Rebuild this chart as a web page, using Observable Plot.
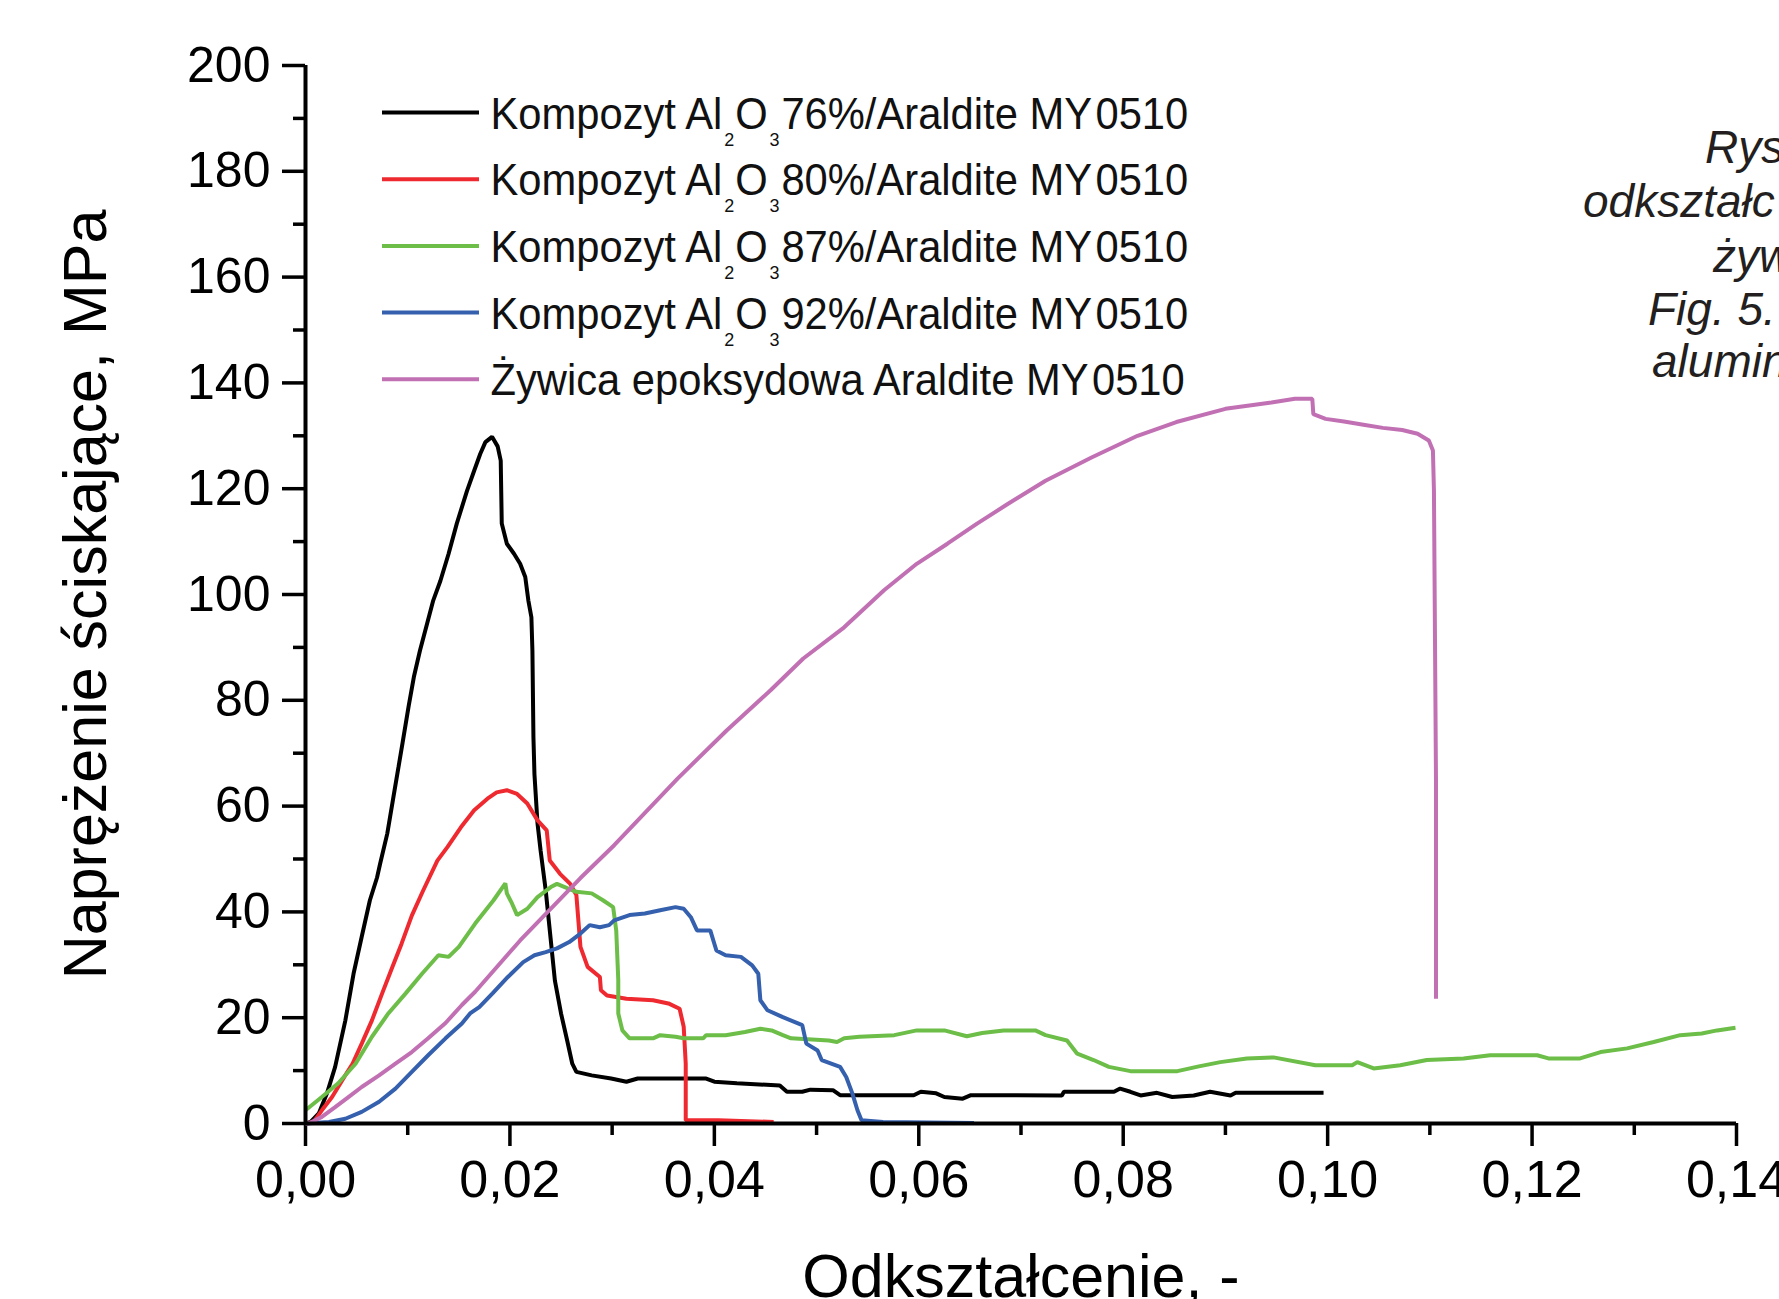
<!DOCTYPE html>
<html><head><meta charset="utf-8">
<script src="https://cdn.jsdelivr.net/npm/d3@7"></script>
<script src="https://cdn.jsdelivr.net/npm/@observablehq/plot@0.6"></script>
<style>
html,body{margin:0;padding:0;background:#fff;overflow:hidden;width:1779px;height:1299px;}
#wrap{position:relative;width:1779px;height:1299px;overflow:hidden;}
#overlay{position:absolute;left:0;top:0;pointer-events:none;}
svg text{font-family:"Liberation Sans",Arial,Helvetica,sans-serif;}
</style></head><body><div id="wrap"></div>
<script>
// ---- data (strain [-], stress [MPa]) ----
const seriesNames = [
  "Kompozyt Al2O3 76%/Araldite MY0510",
  "Kompozyt Al2O3 80%/Araldite MY0510",
  "Kompozyt Al2O3 87%/Araldite MY0510",
  "Kompozyt Al2O3 92%/Araldite MY0510",
  "Żywica epoksydowa Araldite MY0510"
];
const seriesColors = ["#000000", "#ee2a30", "#6cbe48", "#3560ad", "#c171b3"];

const curve76 = [[0,0],[0.0005,0.3],[0.0013,1.9],[0.0021,5.7],[0.0029,10.7],[0.0039,19.5],[0.0047,28.3],[0.0055,35.3],[0.0063,42.2],[0.0070,46.5],[0.0073,49.1],[0.0080,54.8],[0.0086,61.7],[0.0091,67.4],[0.0095,72],[0.0101,79],[0.0106,84.4],[0.0112,89.4],[0.0119,94.5],[0.0125,98.9],[0.0132,102.6],[0.0140,107.7],[0.0148,113.4],[0.0158,119.6],[0.0165,123.4],[0.0171,126.6],[0.0176,128.8],[0.01825,129.8],[0.0188,128],[0.0191,125.3],[0.0192,113.4],[0.0197,109.6],[0.0204,107.7],[0.0210,105.8],[0.0215,103.3],[0.0218,98.9],[0.0221,95.7],[0.0222,89.4],[0.0223,73],[0.0224,66],[0.0227,56.7],[0.0230,51.6],[0.0235,44.1],[0.0240,34.6],[0.0244,27],[0.0250,20.8],[0.0256,15.7],[0.0261,11.3],[0.0265,9.75],[0.0280,9.1],[0.0299,8.5],[0.0314,7.9],[0.0325,8.5],[0.0392,8.5],[0.0400,7.9],[0.0422,7.6],[0.0464,7.2],[0.0471,6.0],[0.0486,6.0],[0.0494,6.4],[0.0516,6.3],[0.0523,5.35],[0.0595,5.35],[0.0602,6.0],[0.0617,5.7],[0.0625,5.0],[0.0643,4.7],[0.0651,5.35],[0.0740,5.3],[0.0742,6.0],[0.0791,6.0],[0.0797,6.6],[0.0807,6.0],[0.0817,5.3],[0.0833,5.8],[0.0848,5.0],[0.0869,5.3],[0.0885,6.0],[0.0905,5.3],[0.0910,5.8],[0.0996,5.8]];

const curve80 = [[0,0],[0.0008,0.3],[0.0016,2.5],[0.0026,5.0],[0.0036,8.2],[0.0046,11.3],[0.0055,15.1],[0.0065,19.5],[0.0075,24.6],[0.0085,29.6],[0.0094,34],[0.0104,39.3],[0.0115,44],[0.0129,49.7],[0.0139,52.3],[0.0152,56.0],[0.0165,59.2],[0.0178,61.4],[0.0187,62.6],[0.0197,63.0],[0.0207,62.3],[0.0217,60.5],[0.0227,57.3],[0.0236,55.4],[0.0239,49.7],[0.0249,47.2],[0.0259,45.3],[0.0265,43.2],[0.0269,33.4],[0.0276,29.6],[0.0288,27.7],[0.0289,25.2],[0.0295,24.2],[0.0314,23.6],[0.0340,23.3],[0.0355,22.7],[0.0366,21.7],[0.0370,18.3],[0.0372,11.3],[0.0372,0.6],[0.0404,0.6],[0.0458,0.3]];

const curve87 = [[0,2.5],[0.0016,5.0],[0.0032,7.6],[0.0049,11.3],[0.0065,16.4],[0.0081,20.8],[0.0098,24.6],[0.0114,28.3],[0.0130,31.8],[0.0140,31.5],[0.0150,33.4],[0.0166,37.8],[0.0184,42.2],[0.01955,45.4],[0.0197,43.5],[0.0202,41.6],[0.0207,39.4],[0.0217,40.6],[0.0227,42.8],[0.0240,44.7],[0.0246,45.3],[0.0256,44.5],[0.0265,43.8],[0.0280,43.5],[0.0291,42.2],[0.0301,40.9],[0.0304,36.5],[0.0306,27.1],[0.0306,20.8],[0.0310,17.6],[0.0317,16.1],[0.0340,16.1],[0.0347,16.7],[0.0362,16.4],[0.0370,16.1],[0.0389,16.1],[0.0392,16.7],[0.0411,16.7],[0.0430,17.3],[0.0445,17.9],[0.0456,17.6],[0.0467,16.7],[0.0475,16.1],[0.0512,15.7],[0.0520,15.4],[0.0527,16.1],[0.0542,16.4],[0.0576,16.7],[0.0598,17.6],[0.0625,17.6],[0.0647,16.5],[0.0662,17.1],[0.0683,17.6],[0.0714,17.6],[0.0724,16.7],[0.0745,15.7],[0.0755,13.2],[0.0771,12.0],[0.0786,10.7],[0.0807,9.9],[0.0853,9.9],[0.0874,10.8],[0.0895,11.6],[0.0921,12.3],[0.0947,12.5],[0.0988,11.0],[0.1024,11.0],[0.1029,11.6],[0.1045,10.4],[0.1071,11.0],[0.1097,12.0],[0.1133,12.3],[0.1159,12.9],[0.1205,12.9],[0.1216,12.3],[0.1247,12.3],[0.1267,13.5],[0.1293,14.2],[0.1319,15.4],[0.1345,16.7],[0.1366,17.0],[0.1381,17.6],[0.1399,18.1]];

const curve92 = [[0,0],[0.0023,0.3],[0.0039,0.9],[0.0055,2.2],[0.0072,4.1],[0.0088,6.6],[0.0104,9.75],[0.0120,12.9],[0.0137,16.1],[0.0153,18.9],[0.0161,20.8],[0.0170,22.0],[0.0183,24.6],[0.0198,27.7],[0.0213,30.5],[0.0224,31.8],[0.0235,32.4],[0.0246,33.1],[0.0258,34.3],[0.0269,35.9],[0.0278,37.5],[0.0288,37.1],[0.0297,37.5],[0.0302,38.4],[0.0317,39.4],[0.0332,39.7],[0.0347,40.3],[0.0362,40.9],[0.0370,40.6],[0.0377,39.0],[0.0383,36.5],[0.0396,36.5],[0.0402,32.7],[0.0411,31.8],[0.0426,31.5],[0.0437,29.9],[0.0443,28.3],[0.0445,23.3],[0.0452,21.4],[0.0467,20.1],[0.0486,18.6],[0.0490,15.1],[0.0501,13.8],[0.0505,12.0],[0.0523,10.7],[0.0529,8.8],[0.0535,5.7],[0.0540,2.5],[0.0544,0.6],[0.0565,0.3],[0.0654,0.1]];

const curveEpoxy = [[0,0],[0.0003,0],[0.0016,1.25],[0.0029,3.1],[0.0042,5.0],[0.0055,6.9],[0.0072,9.1],[0.0088,11.3],[0.0104,13.5],[0.0120,16.1],[0.0137,19.0],[0.0153,22.4],[0.0166,24.9],[0.0210,34.6],[0.0269,46.4],[0.0302,52.6],[0.0364,65.2],[0.0412,74.3],[0.0455,81.9],[0.0487,87.9],[0.0527,93.8],[0.0566,100.8],[0.0598,105.8],[0.0628,109.6],[0.0657,113.4],[0.0687,117.1],[0.0724,121.5],[0.0769,125.9],[0.0814,130.0],[0.0852,132.6],[0.0900,135.1],[0.0945,136.3],[0.0968,137.0],[0.0985,137.0],[0.0986,134.1],[0.0998,133.2],[0.1016,132.7],[0.1035,132.1],[0.1054,131.5],[0.1073,131.1],[0.1088,130.4],[0.1099,129.1],[0.1103,127.2],[0.1104,119.6],[0.1106,64.9],[0.1106,23.6]];

const curves = [curve76, curve80, curve87, curve92, curveEpoxy];

const xMajorTicks = [0, 0.02, 0.04, 0.06, 0.08, 0.10, 0.12, 0.14];
const xMinorTicks = [0.01, 0.03, 0.05, 0.07, 0.09, 0.11, 0.13];
const yMajorTicks = [0, 20, 40, 60, 80, 100, 120, 140, 160, 180, 200];
const yMinorTicks = [10, 30, 50, 70, 90, 110, 130, 150, 170, 190];
const xTitle = "Odkształcenie, -";
const yTitle = "Naprężenie ściskające, MPa";
const sideText = ["Rys", "odkształc", "żyw", "Fig. 5.", "alumin"];

// ---- chart ----
const W = 1779, H = 1299;
const mL = 305, mR = 43, mT = 65, mB = 176;

const chart = Plot.plot({
  width: W, height: H,
  marginLeft: mL, marginRight: mR, marginTop: mT, marginBottom: mB,
  style: {fontFamily: '"Liberation Sans", Arial, sans-serif', background: "white", color: "black", overflow: "hidden"},
  x: {domain: [0, 0.14]},
  y: {domain: [0, 200]},
  marks: [
    Plot.axisY({ticks: yMajorTicks, tickSize: 23, tickPadding: 12, fontSize: 50, strokeWidth: 3.5, tickFormat: d => String(d), label: null}),
    Plot.axisY({ticks: yMinorTicks, tickSize: 12, strokeWidth: 3.5, tickFormat: () => "", label: null}),
    Plot.axisY({ticks: [], fontSize: 61, label: yTitle, labelAnchor: "center", labelOffset: 243, labelArrow: false}),
    Plot.axisX({ticks: xMajorTicks, tickSize: 23, tickPadding: 14, fontSize: 52, strokeWidth: 3.5, tickFormat: d => d.toFixed(2).replace(".", ","), label: null}),
    Plot.axisX({ticks: xMinorTicks, tickSize: 12, strokeWidth: 3.5, tickFormat: () => "", label: null}),
    Plot.axisX({ticks: [], fontSize: 61, label: xTitle, labelAnchor: "center", labelOffset: 173, labelArrow: false}),
    ...curves.map((c, i) => Plot.line(c, {x: d => d[0], y: d => d[1], stroke: seriesColors[i], strokeWidth: 4, strokeLinejoin: "miter", strokeLinecap: "butt"})),
    Plot.ruleX([0], {strokeWidth: 4}),
    Plot.ruleY([0], {strokeWidth: 4})
  ]
});

const wrap = document.getElementById("wrap");
wrap.appendChild(chart);

// ---- legend and side text overlay ----
const ns = "http://www.w3.org/2000/svg";
const ov = document.createElementNS(ns, "svg");
ov.setAttribute("id", "overlay");
ov.setAttribute("width", W);
ov.setAttribute("height", H);
wrap.appendChild(ov);

const legY0 = 112.5, legDY = 66.7;
seriesNames.forEach((name, i) => {
  const y = legY0 + i * legDY;
  const ln = document.createElementNS(ns, "line");
  ln.setAttribute("x1", 382); ln.setAttribute("x2", 479);
  ln.setAttribute("y1", y); ln.setAttribute("y2", y);
  ln.setAttribute("stroke", seriesColors[i]); ln.setAttribute("stroke-width", 4);
  ov.appendChild(ln);
  const g = document.createElementNS(ns, "g");
  g.setAttribute("transform", `translate(490.5,${y + 16}) scale(0.948,1)`);
  const t = document.createElementNS(ns, "text");
  t.setAttribute("font-size", 44);
  t.setAttribute("fill", "#111");
  const m = name.match(/^(.*Al)2O3 (.*)MY0510$/);
  // [text, dy, fontSize, dx]
  const parts = m
    ? [[m[1], 0, 44, 0], ["2", 17, 19, 2], ["O", -17, 44, 1], ["3", 17, 19, 2], [m[2] + "MY\u200A0510", -17, 44, 2]]
    : [[name.replace("MY0510", "MY\u200A0510"), 0, 44, 0]];
  parts.forEach(([s, dy, fs, dx]) => {
    const sp = document.createElementNS(ns, "tspan");
    sp.textContent = s;
    if (dy) sp.setAttribute("dy", dy);
    if (dx) sp.setAttribute("dx", dx);
    sp.setAttribute("font-size", fs);
    t.appendChild(sp);
  });
  g.appendChild(t);
  ov.appendChild(g);
});

const sidePos = [[1705, 163], [1583, 217], [1713, 272], [1648, 325], [1652, 377]];
sideText.forEach((s, i) => {
  const t = document.createElementNS(ns, "text");
  t.textContent = s;
  t.setAttribute("x", sidePos[i][0]);
  t.setAttribute("y", sidePos[i][1]);
  t.setAttribute("font-size", 46);
  t.setAttribute("font-style", "italic");
  t.setAttribute("fill", "#231f20");
  ov.appendChild(t);
});
</script></body></html>
